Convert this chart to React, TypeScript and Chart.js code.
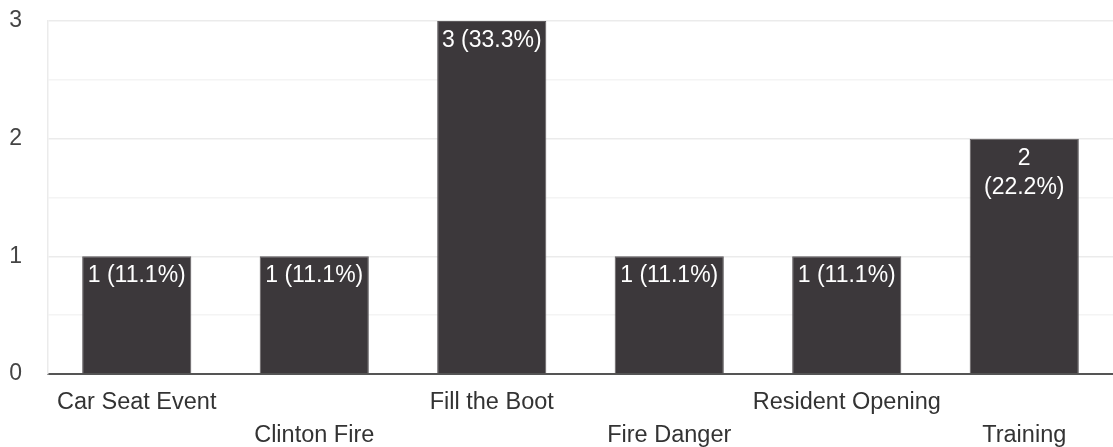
import React, { useEffect, useRef } from "react";
import { Chart, registerables } from "chart.js";

Chart.register(...registerables);

const categories: string[] = [
  "Car Seat Event",
  "Clinton Fire",
  "Fill the Boot",
  "Fire Danger",
  "Resident Opening",
  "Training",
];
const counts: number[] = [1, 1, 3, 1, 1, 2];
const barLabels: string[][] = [
  ["1 (11.1%)"],
  ["1 (11.1%)"],
  ["3 (33.3%)"],
  ["1 (11.1%)"],
  ["1 (11.1%)"],
  ["2", "(22.2%)"],
];
const yMax = 3;
const yStep = 0.5;

const FONT = "Arial, 'Liberation Sans', sans-serif";

const barLabelPlugin = {
  id: "barLabels",
  afterDatasetsDraw(chart: any) {
    const ctx = chart.ctx;
    const meta = chart.getDatasetMeta(0);
    ctx.save();
    ctx.fillStyle = "#ffffff";
    ctx.font = `23px ${FONT}`;
    ctx.textAlign = "center";
    ctx.textBaseline = "top";
    meta.data.forEach((bar: any, i: number) => {
      const lines = barLabels[i] || [];
      lines.forEach((line, j) => {
        ctx.fillText(line, bar.x, bar.y + 8 + j * 29);
      });
    });
    ctx.restore();
  },
};

export default function App() {
  const ref = useRef<HTMLCanvasElement | null>(null);
  useEffect(() => {
    if (!ref.current) return;
    const chart = new Chart(ref.current, {
      type: "bar",
      data: {
        labels: categories,
        datasets: [
          {
            data: counts,
            backgroundColor: "#3c383b",
            borderColor: "#5d595c",
            borderWidth: 1,
            categoryPercentage: 1,
            barPercentage: 0.615,
          },
        ],
      },
      options: {
        animation: false,
        responsive: false,
        devicePixelRatio: 1,
        layout: { padding: { top: 21, right: 0, left: 0, bottom: 0 } },
        plugins: {
          legend: { display: false },
          tooltip: { enabled: false },
        },
        scales: {
          x: {
            offset: true,
            grid: { display: false, drawTicks: false },
            border: { display: true, color: "#555555", width: 2 },
            ticks: {
              autoSkip: false,
              maxRotation: 0,
              minRotation: 0,
              padding: 12,
              color: "#333333",
              font: { family: FONT, size: 23.5, lineHeight: 1.4 },
              callback: (_v: any, i: number) =>
                i % 2 === 0 ? [categories[i], ""] : ["", categories[i]],
            },
            afterFit: (s: any) => {
              s.height = 73;
              s.paddingLeft = 0;
              s.paddingRight = 0;
              s.paddingTop = 0;
              s.paddingBottom = 0;
            },
          },
          y: {
            min: 0,
            max: yMax,
            grid: {
              drawTicks: false,
              color: (c: any) =>
                c.tick && Number.isInteger(c.tick.value) ? "#ebebeb" : "#f4f4f4",
              lineWidth: 1.5,
            },
            border: { display: true, color: "#ebebeb", width: 1.5 },
            ticks: {
              stepSize: yStep,
              padding: 26,
              color: "#444444",
              font: { family: FONT, size: 23 },
              callback: (v: any) => (Number.isInteger(v) ? String(v) : ""),
            },
            afterFit: (s: any) => {
              s.width = 48;
              s.paddingTop = 0;
              s.paddingBottom = 0;
            },
          },
        },
      },
      plugins: [barLabelPlugin],
    });
    return () => chart.destroy();
  }, []);
  return (
    <div style={{ position: "absolute", left: 0, top: 0, width: 1113, height: 447, background: "#fff" }}>
      <canvas ref={ref} width={1113} height={447} />
    </div>
  );
}
